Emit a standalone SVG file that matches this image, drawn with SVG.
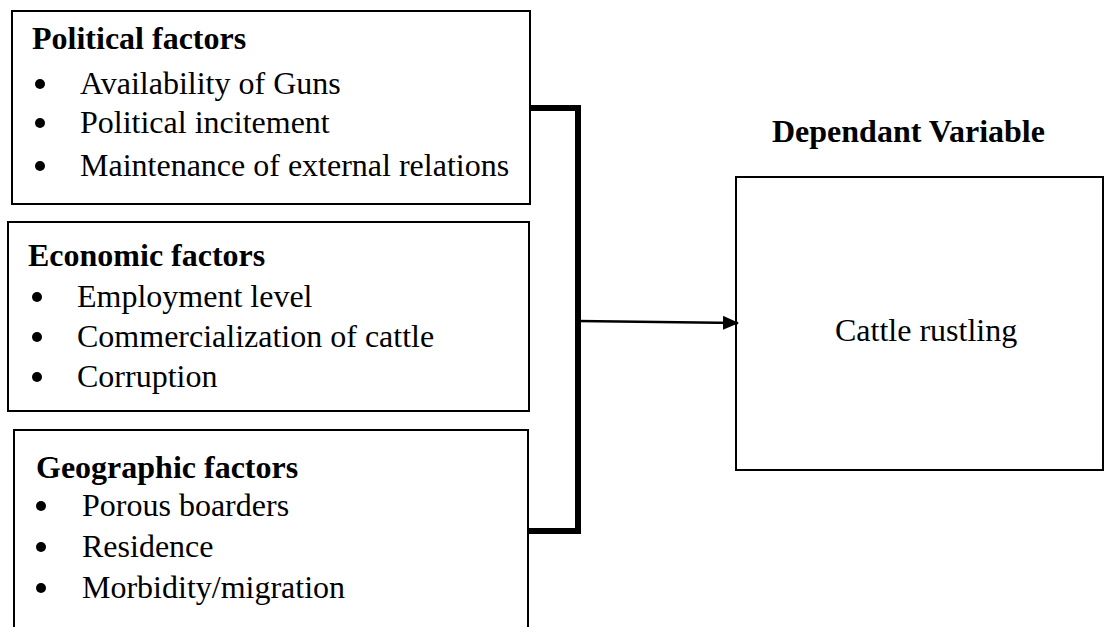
<svg xmlns="http://www.w3.org/2000/svg" width="1105" height="627" viewBox="0 0 1105 627">
<defs>
<style>
.box{fill:#fff;stroke:#000;stroke-width:2}
.h{font-family:"Liberation Serif","Times New Roman",serif;font-weight:bold;font-size:32px;fill:#000}
.t{font-family:"Liberation Serif","Times New Roman",serif;font-size:32px;fill:#000}
.thick{fill:none;stroke:#000;stroke-width:6;stroke-linejoin:miter}
.conn{fill:none;stroke:#000;stroke-width:2.5}
</style>
<marker id="arr" markerWidth="16" markerHeight="14" refX="15" refY="7" orient="auto" markerUnits="userSpaceOnUse" viewBox="0 0 16 14">
<path d="M0,0 L16,7 L0,14 Z" fill="#000"/>
</marker>
</defs>
<rect width="1105" height="627" fill="#fff"/>
<g id="political">
<rect class="box" x="12" y="11" width="518" height="193"/>
<text class="h" x="32" y="49">Political factors</text>
<circle cx="40" cy="84" r="5"/><text class="t" x="80" y="94">Availability of Guns</text>
<circle cx="40" cy="123" r="5"/><text class="t" x="80" y="133">Political incitement</text>
<circle cx="40" cy="166" r="5"/><text class="t" x="80" y="176">Maintenance of external relations</text>
</g>
<g id="economic">
<rect class="box" x="8" y="222" width="521" height="189"/>
<text class="h" x="28" y="266">Economic factors</text>
<circle cx="37" cy="297" r="5"/><text class="t" x="77" y="307">Employment level</text>
<circle cx="37" cy="337" r="5"/><text class="t" x="77" y="347">Commercialization of cattle</text>
<circle cx="37" cy="377" r="5"/><text class="t" x="77" y="387">Corruption</text>
</g>
<g id="geographic">
<path class="box" d="M14,630 L14,430 L528,430 L528,630"/>
<text class="h" x="36" y="478">Geographic factors</text>
<circle cx="41" cy="506" r="5"/><text class="t" x="82" y="516">Porous boarders</text>
<circle cx="41" cy="547" r="5"/><text class="t" x="82" y="557">Residence</text>
<circle cx="41" cy="588" r="5"/><text class="t" x="82" y="598">Morbidity/migration</text>
</g>
<g id="dependent">
<text class="h" x="772" y="142">Dependant Variable</text>
<rect class="box" x="736" y="177" width="367" height="293"/>
<text class="t" x="835" y="341">Cattle rustling</text>
</g>
<g id="connectors">
<path class="thick" d="M530,108 L578,108 L578,531 L528,531"/>
<line class="conn" x1="578" y1="321" x2="738" y2="323" marker-end="url(#arr)"/>
</g>
</svg>
